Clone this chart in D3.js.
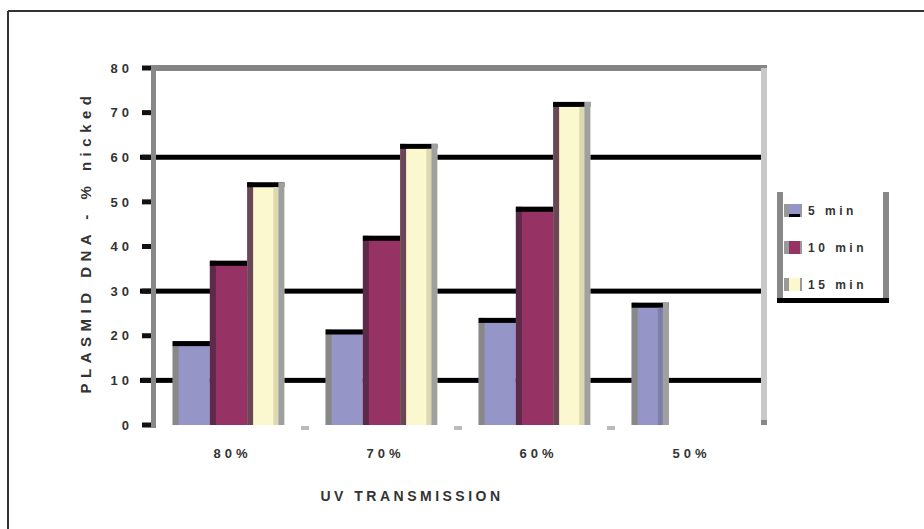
<!DOCTYPE html>
<html>
<head>
<meta charset="utf-8">
<script src="https://cdn.jsdelivr.net/npm/d3@7"></script>
<style>
  html, body { margin: 0; padding: 0; background: #fff; }
  svg { display: block; }
  text { font-family: "Liberation Sans", Arial, sans-serif; font-weight: bold; fill: #333; }
</style>
</head>
<body>
<svg id="chart" width="924" height="529"></svg>
<script>
const categories = ["80%", "70%", "60%", "50%"];
const seriesNames = ["5 min", "10 min", "15 min"];
const min5  = [18.8, 21.4, 24.0, 27.4];
const min10 = [36.8, 42.4, 48.9, null];
const min15 = [54.4, 63.0, 72.4, null];
const yTicks = [0, 10, 20, 30, 40, 50, 60, 70, 80];
const gridValues = [10, 30, 60];

const seriesValues = [min5, min10, min15];
const fills = ["#9595c8", "#963264", "#fbf8d0"];
const leftEdge = ["#888888", "#5e2a4a", "#6a4656"];

const svg = d3.select("#chart");
const plot = { left: 154, right: 764, top: 68, bottom: 425 };

// outer frame (left & top visible)
svg.append("line").attr("x1", 8).attr("x2", 924).attr("y1", 11).attr("y2", 11)
  .attr("stroke", "#333").attr("stroke-width", 2);
svg.append("line").attr("x1", 8).attr("x2", 8).attr("y1", 11).attr("y2", 529)
  .attr("stroke", "#333").attr("stroke-width", 2);

const y = d3.scaleLinear().domain([0, 80]).range([plot.bottom, plot.top]);
const x0 = d3.scaleBand().domain(categories).range([plot.left - 2, plot.right])
  .paddingInner(0.27).paddingOuter(0.135);
const x1 = d3.scaleBand().domain(seriesNames).range([0, x0.bandwidth()]);

// plot top border and right border
svg.append("rect").attr("x", plot.left - 3).attr("y", y(80) - 3).attr("width", plot.right + 3 - (plot.left - 3)).attr("height", 6)
  .attr("fill", "#858585");
svg.append("rect").attr("x", plot.right - 3).attr("y", y(80)).attr("width", 6).attr("height", plot.bottom - y(80))
  .attr("fill", "#c8c8c8");
svg.append("rect").attr("x", plot.right - 3).attr("y", plot.bottom - 5).attr("width", 6).attr("height", 5)
  .attr("fill", "#888");

// gridlines
svg.selectAll(".grid").data(gridValues).enter().append("rect")
  .attr("x", plot.left - 14).attr("width", plot.right - 3 - (plot.left - 14))
  .attr("y", d => y(d) - 2.5).attr("height", 5).attr("fill", "#000");

// category boundary ticks at bottom
const bounds = categories.slice(1).map(c => x0(c) - x0.step() * x0.paddingInner() / 2);
svg.selectAll(".ctick").data(bounds).enter().append("rect")
  .attr("x", d => d - 4).attr("width", 8).attr("y", plot.bottom + 1).attr("height", 4)
  .attr("fill", "#bbbbbb");

// bars
categories.forEach((cat, ci) => {
  const present = seriesNames.filter((s, si) => seriesValues[si][ci] != null);
  seriesNames.forEach((s, si) => {
    const v = seriesValues[si][ci];
    if (v == null) return;
    const bx = x0(cat) + x1(s);
    const bw = x1.bandwidth();
    const top = y(v);
    const g = svg.append("g");
    g.append("rect").attr("x", bx).attr("y", top).attr("width", bw).attr("height", y(0) - top)
      .attr("fill", fills[si]);
    g.append("rect").attr("x", bx).attr("y", top).attr("width", 6).attr("height", y(0) - top)
      .attr("fill", leftEdge[si]);
    g.append("rect").attr("x", bx).attr("y", top).attr("width", bw).attr("height", 5)
      .attr("fill", "#000");
    if (si === 2) {
      g.append("rect").attr("x", bx + bw - 11).attr("y", top + 5).attr("width", 5).attr("height", y(0) - top - 5)
        .attr("fill", "#dcd8b0");
    }
    if (s === present[present.length - 1]) {
      if (si === 0) {
        g.append("rect").attr("x", bx + bw - 11).attr("y", top + 5).attr("width", 5).attr("height", y(0) - top - 5)
          .attr("fill", "#7e7eaa");
      }
      g.append("rect").attr("x", bx + bw - 6).attr("y", top).attr("width", 6).attr("height", y(0) - top)
        .attr("fill", "#a0a0a0");
    }
  });
});

// y axis line
svg.append("rect").attr("x", plot.left - 3).attr("y", y(80) - 3).attr("width", 5).attr("height", plot.bottom + 3 - (y(80) - 3))
  .attr("fill", "#888");
// y ticks
svg.selectAll(".ytick").data(yTicks).enter().append("rect")
  .attr("x", plot.left - 12).attr("width", 9).attr("y", d => y(d) - 2.5).attr("height", 5)
  .attr("fill", "#111");
svg.selectAll(".ylab").data(yTicks).enter().append("text")
  .attr("x", 133).attr("y", d => y(d)).attr("dy", "0.36em")
  .attr("text-anchor", "end").attr("font-size", 13).attr("letter-spacing", 4)
  .text(d => d);

// x labels
svg.selectAll(".xlab").data(categories).enter().append("text")
  .attr("x", d => x0(d) + x0.bandwidth() / 2 + 4).attr("y", 458)
  .attr("text-anchor", "middle").attr("font-size", 13).attr("letter-spacing", 4)
  .text(d => d);

// axis titles
svg.append("text").attr("x", 412).attr("y", 501).attr("text-anchor", "middle")
  .attr("font-size", 14).attr("letter-spacing", 3.5).text("UV TRANSMISSION");
svg.append("text").attr("transform", "translate(91,242) rotate(-90)")
  .attr("text-anchor", "middle").attr("font-size", 15).attr("letter-spacing", 5.5)
  .text("PLASMID DNA - % nicked");

// legend
const lg = svg.append("g");
lg.append("rect").attr("x", 777).attr("y", 192).attr("width", 6).attr("height", 111).attr("fill", "#888");
lg.append("rect").attr("x", 883).attr("y", 192).attr("width", 6).attr("height", 111).attr("fill", "#888");
lg.append("rect").attr("x", 777).attr("y", 298).attr("width", 112).attr("height", 5).attr("fill", "#000");
seriesNames.forEach((s, i) => {
  const yy = 204 + i * 37;
  lg.append("rect").attr("x", 784).attr("y", yy).attr("width", 18).attr("height", 13).attr("fill", "#999");
  lg.append("rect").attr("x", 789).attr("y", yy).attr("width", 11).attr("height", 13).attr("fill", fills[i]);
  if (i === 0) lg.append("rect").attr("x", 789).attr("y", yy + 10).attr("width", 11).attr("height", 3).attr("fill", "#000");
  lg.append("text").attr("x", 808).attr("y", yy + 7).attr("dy", "0.36em")
    .attr("font-size", 12).attr("letter-spacing", 3.5).text(s);
});
</script>
</body>
</html>
